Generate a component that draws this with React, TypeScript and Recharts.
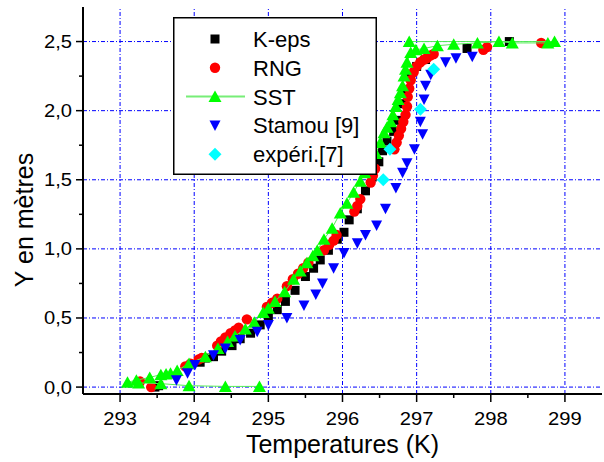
import React from "react";
import { ScatterChart, Scatter, XAxis, YAxis, ReferenceLine } from "recharts";

// [temperature K, height m]
const kEps: number[][] = [
  [293.47, 0.0], [293.52, 0.01], [294.08, 0.18], [294.15, 0.21], [294.26, 0.22], [294.37, 0.26],
  [294.51, 0.3], [294.62, 0.35], [294.76, 0.39], [294.89, 0.45], [295.0, 0.51], [295.12, 0.56],
  [295.23, 0.62], [295.36, 0.7], [295.5, 0.8], [295.61, 0.86], [295.7, 0.92], [295.81, 0.99],
  [295.93, 1.07], [296.02, 1.12], [296.09, 1.21], [296.2, 1.29], [296.31, 1.42], [296.4, 1.52],
  [296.49, 1.63], [296.54, 1.71], [296.6, 1.78], [296.69, 1.85], [296.74, 1.93], [296.8, 2.05],
  [296.85, 2.15], [296.92, 2.25], [297.0, 2.32], [297.12, 2.37], [297.68, 2.45], [298.25, 2.5],
];

const rng: number[][] = [
  [293.27, 0.04], [293.42, 0.0], [293.88, 0.15], [293.95, 0.17], [294.06, 0.2], [294.1, 0.21],
  [294.31, 0.3], [294.36, 0.33], [294.42, 0.36], [294.49, 0.39], [294.55, 0.41], [294.6, 0.43],
  [294.71, 0.49], [294.98, 0.58], [295.05, 0.61], [295.12, 0.64], [295.25, 0.73], [295.33, 0.78],
  [295.4, 0.82], [295.47, 0.86], [295.54, 0.9], [295.75, 0.99], [295.82, 1.03], [295.88, 1.06],
  [295.92, 1.1], [296.16, 1.27], [296.2, 1.31], [296.24, 1.36], [296.38, 1.48], [296.41, 1.53],
  [296.44, 1.58], [296.7, 1.72], [296.73, 1.77], [296.76, 1.82], [296.79, 1.87], [296.82, 1.92],
  [296.85, 1.97], [296.87, 2.03], [296.88, 2.1], [296.9, 2.16], [296.92, 2.22], [296.96, 2.28],
  [297.0, 2.32], [297.05, 2.35], [297.1, 2.37], [297.14, 2.38], [297.19, 2.4], [297.23, 2.41],
  [297.9, 2.44], [297.95, 2.46], [298.68, 2.49],
];

// SST kept in file order (line joins the points in this order)
const sst: number[][] = [
  [294.88, 0.005], [294.42, 0.005], [293.93, 0.01], [293.55, 0.025], [293.25, 0.03], [293.1, 0.035],
  [293.22, 0.05], [293.4, 0.07], [293.55, 0.09], [293.62, 0.095], [293.68, 0.1], [293.77, 0.12],
  [293.93, 0.17], [294.15, 0.22], [294.32, 0.28], [294.45, 0.33], [294.55, 0.37], [294.69, 0.42],
  [294.81, 0.47], [294.93, 0.54], [295.0, 0.57], [295.09, 0.62], [295.22, 0.69], [295.34, 0.78],
  [295.43, 0.84], [295.52, 0.9], [295.6, 0.95], [295.66, 0.99], [295.75, 1.07], [295.86, 1.15],
  [295.97, 1.26], [296.06, 1.33], [296.15, 1.41], [296.24, 1.49], [296.3, 1.55], [296.36, 1.6],
  [296.45, 1.69], [296.51, 1.77], [296.56, 1.84], [296.6, 1.88], [296.65, 1.92], [296.68, 1.97],
  [296.72, 2.03], [296.75, 2.08], [296.78, 2.13], [296.81, 2.18], [296.83, 2.25], [296.85, 2.3],
  [296.87, 2.35], [296.92, 2.42], [296.99, 2.44], [297.1, 2.45], [297.28, 2.47], [297.5, 2.48],
  [297.82, 2.49], [298.11, 2.5], [298.29, 2.49], [298.77, 2.49], [298.86, 2.5], [296.9, 2.5],
];

const stamou: number[][] = [
  [293.76, 0.05], [293.91, 0.1], [294.01, 0.16], [294.26, 0.23], [294.42, 0.28], [294.62, 0.34],
  [294.85, 0.4], [295.0, 0.45], [295.25, 0.5], [295.48, 0.59], [295.64, 0.67], [295.73, 0.75],
  [295.88, 0.86], [296.02, 0.97], [296.2, 1.04], [296.31, 1.1], [296.46, 1.17], [296.58, 1.29],
  [296.72, 1.44], [296.81, 1.55], [296.87, 1.62], [296.97, 1.72], [297.08, 1.83], [297.05, 1.92],
  [297.1, 2.08], [297.12, 2.18], [297.19, 2.26], [297.39, 2.35], [297.53, 2.38], [297.75, 2.39],
];

const experi: number[][] = [
  [296.55, 1.5], [296.64, 1.72], [297.05, 2.01], [297.23, 2.3],
];

const xTicks = [293, 293.5, 294, 294.5, 295, 295.5, 296, 296.5, 297, 297.5, 298, 298.5, 299];
const yTicks = [0, 0.25, 0.5, 0.75, 1, 1.25, 1.5, 1.75, 2, 2.25, 2.5];
const xGrid = [293, 294, 295, 296, 297, 298, 299];
const yGrid = [0, 0.5, 1, 1.5, 2, 2.5];

const toPts = (arr: number[][]) => arr.map(([t, y]) => ({ t, y }));
const isMajor = (v: number) => Math.abs(v - Math.round(v)) < 1e-6;
const isMajorY = (v: number) => Math.abs(v * 2 - Math.round(v * 2)) < 1e-6;
const fmtY = (v: number) => v.toFixed(1).replace(".", ",");

const FONT = "'Liberation Sans', Arial, sans-serif";

const XTick = ({ x, y, payload }: any) => {
  const major = isMajor(payload.value);
  return (
    <g>
      <line x1={x} y1={y} x2={x} y2={y + (major ? 8 : 4)} stroke="#000" strokeWidth={1.5} />
      {major && (
        <text
          transform={`translate(${x} ${y + 30.5}) scale(1.12 1)`}
          textAnchor="middle"
          fontSize={18}
          fontFamily={FONT}
          fill="#000"
        >
          {payload.value}
        </text>
      )}
    </g>
  );
};

const YTick = ({ x, y, payload }: any) => {
  const major = isMajorY(payload.value);
  return (
    <g>
      <line x1={x} y1={y} x2={x - (major ? 7 : 4)} y2={y} stroke="#000" strokeWidth={1.5} />
      {major && (
        <text
          transform={`translate(${x - 11} ${y + 6.5}) scale(1.12 1)`}
          textAnchor="end"
          fontSize={18}
          fontFamily={FONT}
          fill="#000"
        >
          {fmtY(payload.value)}
        </text>
      )}
    </g>
  );
};

const Square = ({ cx, cy }: any) => <rect x={cx - 4.5} y={cy - 4.5} width={9} height={9} fill="#000000" />;
const Dot = ({ cx, cy }: any) => <circle cx={cx} cy={cy} r={5.2} fill="#ff0000" />;
const Tri = ({ cx, cy }: any) => (
  <polygon points={`${cx - 6.5},${cy + 5.5} ${cx + 6.5},${cy + 5.5} ${cx},${cy - 6}`} fill="#00ff00" />
);
const DownTri = ({ cx, cy }: any) => (
  <polygon points={`${cx - 5.5},${cy - 5} ${cx + 5.5},${cy - 5} ${cx},${cy + 5.5}`} fill="#0000ff" />
);
const Diamond = ({ cx, cy }: any) => (
  <polygon points={`${cx},${cy - 6.5} ${cx + 6.5},${cy} ${cx},${cy + 6.5} ${cx - 6.5},${cy}`} fill="#00ffff" />
);

const legendItems = [
  { name: "K-eps", Shape: Square },
  { name: "RNG", Shape: Dot },
  { name: "SST", Shape: Tri, line: true },
  { name: "Stamou [9]", Shape: DownTri },
  { name: "expéri.[7]", Shape: Diamond },
];

function ChartLegend() {
  return (
    <div style={{ position: "absolute", left: 173, top: 17 }}>
      <svg width={204} height={158}>
        <rect x={0.75} y={0.75} width={202.5} height={156.5} fill="#fff" stroke="#000" strokeWidth={1.5} />
        {legendItems.map((it, i) => {
          const cy = 22 + i * 28.8;
          return (
            <g key={it.name}>
              {it.line && <line x1={13} x2={72} y1={cy} y2={cy} stroke="#77ee77" strokeWidth={2} />}
              <it.Shape cx={42} cy={cy} />
              <text x={80} y={cy + 8} fontSize={22} fontFamily={FONT} fill="#000">
                {it.name}
              </text>
            </g>
          );
        })}
      </svg>
    </div>
  );
}

export default function App() {
  const xDomain: [number, number] = [292.5, 299.5];
  const yDomain: [number, number] = [-0.05, 2.75];
  return (
    <div style={{ position: "absolute", left: 0, top: 0, width: 604, height: 462, background: "#fff" }}>
      <ScatterChart width={604} height={462} margin={{ top: 7, right: 2, bottom: 0, left: 0 }}>
        <XAxis
          dataKey="t"
          type="number"
          domain={xDomain}
          allowDataOverflow
          ticks={xTicks}
          interval={0}
          tickSize={0}
          tickMargin={0}
          tickLine={false}
          tick={<XTick />}
          height={68}
          axisLine={{ stroke: "#000", strokeWidth: 2 }}
          label={{
            content: ({ viewBox }: any) => (
              <text
                x={viewBox.x + viewBox.width / 2}
                y={viewBox.y + viewBox.height - 9}
                textAnchor="middle"
                fontSize={25}
                fontFamily={FONT}
                fill="#000"
              >
                Temperatures (K)
              </text>
            ),
          }}
        />
        <XAxis
          xAxisId="top"
          orientation="top"
          type="number"
          domain={xDomain}
          allowDataOverflow
          ticks={xTicks}
          interval={0}
          mirror
          height={0}
          tick={false}
          tickSize={4}
          tickLine={{ stroke: "#000" }}
          axisLine={{ stroke: "#000", strokeWidth: 2 }}
        />
        <YAxis
          dataKey="y"
          type="number"
          domain={yDomain}
          allowDataOverflow
          ticks={yTicks}
          interval={0}
          tickSize={0}
          tickMargin={0}
          tickLine={false}
          tick={<YTick />}
          width={83}
          axisLine={{ stroke: "#000", strokeWidth: 2 }}
          label={{
            content: ({ viewBox }: any) => {
              const cx = viewBox.x + 33;
              const cy = viewBox.y + viewBox.height / 2 + 19.5;
              return (
                <text
                  x={cx}
                  y={cy}
                  transform={`rotate(-90 ${cx} ${cy})`}
                  textAnchor="middle"
                  fontSize={25}
                  fontFamily={FONT}
                  fill="#000"
                >
                  Y en mètres
                </text>
              );
            },
          }}
        />
        <YAxis
          yAxisId="right"
          orientation="right"
          type="number"
          domain={yDomain}
          allowDataOverflow
          ticks={yTicks}
          interval={0}
          mirror
          width={0}
          tick={false}
          tickSize={4}
          tickLine={{ stroke: "#000" }}
          axisLine={{ stroke: "#000", strokeWidth: 2 }}
        />
        {xGrid.map((v) => (
          <ReferenceLine key={`gx${v}`} x={v} stroke="#0000ff" strokeDasharray="4 2 1 2" strokeWidth={1} />
        ))}
        {yGrid.map((v) => (
          <ReferenceLine key={`gy${v}`} y={v} stroke="#0000ff" strokeDasharray="4 2 1 2" strokeWidth={1} />
        ))}
        <Scatter name="K-eps" data={toPts(kEps)} shape={<Square />} isAnimationActive={false} />
        <Scatter name="RNG" data={toPts(rng)} shape={<Dot />} isAnimationActive={false} />
        <Scatter
          name="SST"
          data={toPts(sst)}
          shape={<Tri />}
          line={{ stroke: "#55ee55", strokeWidth: 1 }}
          lineType="joint"
          isAnimationActive={false}
        />
        <Scatter name="Stamou [9]" data={toPts(stamou)} shape={<DownTri />} isAnimationActive={false} />
        <Scatter name="expéri.[7]" data={toPts(experi)} shape={<Diamond />} isAnimationActive={false} />
      </ScatterChart>
      <ChartLegend />
    </div>
  );
}
